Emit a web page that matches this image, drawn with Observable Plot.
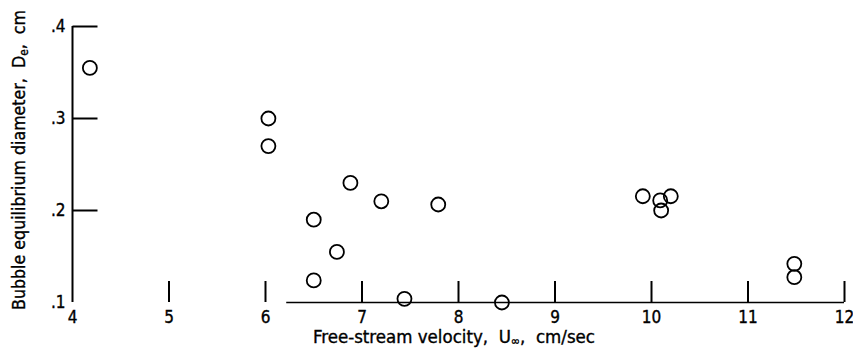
<!DOCTYPE html>
<html><head><meta charset="utf-8">
<script src="https://cdn.jsdelivr.net/npm/d3@7"></script>
<script src="https://cdn.jsdelivr.net/npm/@observablehq/plot@0.6"></script>
<style>body{margin:0;background:#fff} svg{overflow:visible} svg text{stroke:#000;stroke-width:0.35px}</style>
</head><body><div id="chart"></div>
<script>
const velocity = [4.18, 6.03, 6.03, 6.88, 6.50, 7.20, 7.79, 6.74, 6.50, 7.44, 8.45, 9.91, 10.09, 10.10, 10.20, 11.48, 11.48];
const diameter = [0.355, 0.300, 0.270, 0.230, 0.190, 0.210, 0.2065, 0.155, 0.124, 0.104, 0.100, 0.2155, 0.211, 0.200, 0.2155, 0.142, 0.1275];
const xTickValues = [4, 5, 6, 7, 8, 9, 10, 11, 12];
const xTickMarks = [5, 6, 7, 8, 9, 10, 11, 12];
const yTickValues = [0.1, 0.2, 0.3, 0.4];
const yTickMarks = [0.2, 0.3, 0.4];
const xDomain = [4, 12];
const yDomain = [0.1, 0.4];
const baselineStart = 6.22;
const xLabelParts = ["Free-stream velocity,  U", "\u221E", ",  cm/sec"];
const yLabelParts = ["Bubble equilibrium diameter,  D", "e", ",  cm"];

const points = velocity.map((v, i) => ({v, d: diameter[i]}));
const W = 853, H = 349;
const mL = 72, mR = 9, mT = 26, mB = 47;
const font = "'DejaVu Sans Condensed', 'Liberation Sans Narrow', sans-serif";

const xs = Plot.scale({x: {domain: xDomain, range: [mL, W - mR]}});
const yTickEnd = xs.invert(mL + 25);
const yTickRows = yTickMarks.map(v => ({v, a: xDomain[0], b: yTickEnd}));

const plot = Plot.plot({
  width: W, height: H,
  marginLeft: mL, marginRight: mR, marginTop: mT, marginBottom: mB,
  style: {fontFamily: font, fontSize: "17px", color: "#000", background: "#fff"},
  x: {domain: xDomain, label: null},
  y: {domain: yDomain, label: null},
  marks: [
    Plot.ruleX([xDomain[0]], {y1: yDomain[0], y2: yDomain[1], stroke: "#000", strokeWidth: 2}),
    Plot.ruleY([yDomain[0]], {x1: baselineStart, x2: xDomain[1], stroke: "#000", strokeWidth: 1.5}),
    Plot.link(yTickRows, {x1: "a", x2: "b", y1: "v", y2: "v", stroke: "#000", strokeWidth: 2}),
    Plot.axisY({ticks: yTickValues, tickSize: 0, tickPadding: 7, tickFormat: d => String(d).replace(/^0/, ""), label: null, fill: "#000"}),
    Plot.axisX({ticks: xTickMarks, tickSize: -21, fill: "none", stroke: "#000", strokeWidth: 2, label: null}),
    Plot.axisX({ticks: xTickValues, tickSize: 0, tickPadding: 8, tickFormat: d => String(d), label: null, fill: "#000"}),
    Plot.dot(points, {x: "v", y: "d", r: 7, stroke: "#000", strokeWidth: 1.8, fill: "none"})
  ]
});
document.getElementById("chart").appendChild(plot);

const svg = d3.select(plot);
const xl = svg.append("text")
  .attr("x", 454).attr("y", 343)
  .attr("text-anchor", "middle").attr("font-family", font).attr("font-size", 18).attr("fill", "#000")
  .attr("textLength", 282).attr("lengthAdjust", "spacingAndGlyphs");
xl.append("tspan").text(xLabelParts[0]);
xl.append("tspan").attr("font-size", 12).attr("dy", 2).text(xLabelParts[1]);
xl.append("tspan").attr("dy", -2).text(xLabelParts[2]);

const yl = svg.append("text")
  .attr("transform", `translate(25,160) rotate(-90)`)
  .attr("text-anchor", "middle").attr("font-family", font).attr("font-size", 18).attr("fill", "#000")
  .attr("textLength", 300).attr("lengthAdjust", "spacingAndGlyphs");
yl.append("tspan").text(yLabelParts[0]);
yl.append("tspan").attr("font-size", 12).attr("dy", 3).text(yLabelParts[1]);
yl.append("tspan").attr("dy", -3).text(yLabelParts[2]);
</script>
</body></html>
